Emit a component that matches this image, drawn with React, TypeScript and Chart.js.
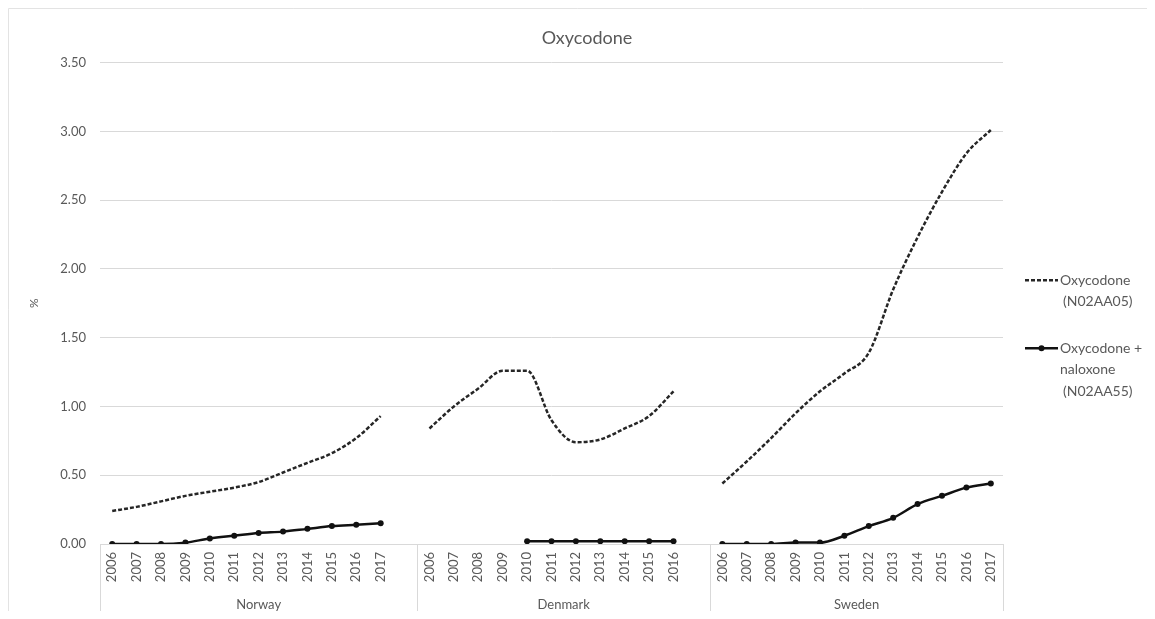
import React, { useEffect, useRef } from 'react';
import { Chart, registerables } from 'chart.js';

Chart.register(...registerables);

const chartTitle = 'Oxycodone';
const yAxisLabel = '%';
const yMin = 0;
const yMax = 3.5;
const yStep = 0.5;

const countries = ['Norway', 'Denmark', 'Sweden'];
const norwayYears = ['2006', '2007', '2008', '2009', '2010', '2011', '2012', '2013', '2014', '2015', '2016', '2017'];
const denmarkYears = ['2006', '2007', '2008', '2009', '2010', '2011', '2012', '2013', '2014', '2015', '2016'];
const swedenYears = ['2006', '2007', '2008', '2009', '2010', '2011', '2012', '2013', '2014', '2015', '2016', '2017'];

const norwayOxycodone = [0.24, 0.27, 0.31, 0.35, 0.38, 0.41, 0.45, 0.52, 0.59, 0.66, 0.77, 0.93];
const denmarkOxycodone = [0.84, 1.0, 1.13, 1.26, 1.26, 0.9, 0.74, 0.76, 0.84, 0.93, 1.11];
const swedenOxycodone = [0.44, 0.6, 0.77, 0.95, 1.11, 1.24, 1.39, 1.85, 2.23, 2.56, 2.84, 3.01];

const norwayNaloxone = [0.0, 0.0, 0.0, 0.01, 0.04, 0.06, 0.08, 0.09, 0.11, 0.13, 0.14, 0.15];
const denmarkNaloxone = [null, null, null, null, 0.02, 0.02, 0.02, 0.02, 0.02, 0.02, 0.02];
const swedenNaloxone = [0.0, 0.0, 0.0, 0.01, 0.01, 0.06, 0.13, 0.19, 0.29, 0.35, 0.41, 0.44];

const seriesLegend = [
  ['Oxycodone', '(N02AA05)'],
  ['Oxycodone +', 'naloxone', '(N02AA55)'],
];

const FONT = 'Lato, "Open Sans", "Liberation Sans", sans-serif';
const TEXT = '#595959';
const GRID = '#d9d9d9';

// Build the category table: each country followed by an empty slot (as in the original)
const groupYears = [norwayYears, denmarkYears, swedenYears];
const labels: string[] = [];
const groupSizes: number[] = [];
groupYears.forEach((yrs, gi) => {
  labels.push(...yrs);
  let n = yrs.length;
  if (gi < groupYears.length - 1) {
    labels.push('');
    n += 1;
  }
  groupSizes.push(n);
});

function joinSeries(parts: (number | null)[][]) {
  const out: (number | null)[] = [];
  parts.forEach((p, i) => {
    out.push(...p);
    if (i < parts.length - 1) out.push(null);
  });
  return out;
}

const oxycodoneData = joinSeries([norwayOxycodone, denmarkOxycodone, swedenOxycodone]);
const naloxoneData = joinSeries([norwayNaloxone, denmarkNaloxone, swedenNaloxone]);

const backgroundPlugin = {
  id: 'bgBorder',
  beforeDraw(chart: any) {
    const { ctx, width, height } = chart;
    ctx.save();
    ctx.fillStyle = '#ffffff';
    ctx.fillRect(0, 0, width, height);
    ctx.strokeStyle = '#e3e3e3';
    ctx.lineWidth = 1;
    ctx.beginPath();
    ctx.moveTo(0.5, height);
    ctx.lineTo(0.5, 0.5);
    ctx.lineTo(width, 0.5);
    ctx.stroke();
    ctx.restore();
  },
};

const groupPlugin = {
  id: 'groupAxis',
  afterDraw(chart: any) {
    const { ctx, chartArea, height } = chart;
    const x = chart.scales.x;
    const step = x.getPixelForValue(1) - x.getPixelForValue(0);
    ctx.save();
    ctx.strokeStyle = GRID;
    ctx.lineWidth = 1;
    ctx.fillStyle = TEXT;
    ctx.font = `13px ${FONT}`;
    ctx.textAlign = 'center';
    ctx.textBaseline = 'middle';
    let start = 0;
    groupSizes.forEach((n, gi) => {
      const left = x.getPixelForValue(start) - step / 2;
      const right = x.getPixelForValue(start + n - 1) + step / 2;
      [left, right].forEach((px) => {
        const xx = Math.round(px) + 0.5;
        ctx.beginPath();
        ctx.moveTo(xx, chartArea.bottom);
        ctx.lineTo(xx, height);
        ctx.stroke();
      });
      ctx.fillText(countries[gi], (left + right) / 2, height - 6);
      start += n;
    });
    ctx.restore();
  },
};

const legendPlugin = {
  id: 'sideLegend',
  afterDraw(chart: any) {
    const { ctx, chartArea } = chart;
    const x0 = chartArea.right + 22;
    const x1 = chartArea.right + 55;
    const tx = chartArea.right + 57;
    const mid = (chartArea.top + chartArea.bottom) / 2;
    const ys = [mid - 23, mid + 45];
    chart.data.datasets.forEach((ds: any, i: number) => {
      const y = ys[i];
      ctx.save();
      ctx.strokeStyle = ds.borderColor;
      ctx.lineWidth = ds.borderWidth;
      ctx.setLineDash(ds.borderDash || []);
      ctx.beginPath();
      ctx.moveTo(x0, y);
      ctx.lineTo(x1, y);
      ctx.stroke();
      ctx.setLineDash([]);
      if (ds.pointRadius > 0) {
        ctx.fillStyle = ds.pointBackgroundColor;
        ctx.beginPath();
        ctx.arc((x0 + x1) / 2, y, ds.pointRadius, 0, Math.PI * 2);
        ctx.fill();
      }
      ctx.fillStyle = TEXT;
      ctx.font = `14px ${FONT}`;
      ctx.textAlign = 'left';
      ctx.textBaseline = 'middle';
      seriesLegend[i].forEach((t, j) => {
        ctx.fillText(t, tx + (j > 0 && t.startsWith('(') ? 3 : 0), y + j * 21.5);
      });
      ctx.restore();
    });
  },
};

export default function App() {
  const canvasRef = useRef<HTMLCanvasElement | null>(null);

  useEffect(() => {
    if (!canvasRef.current) return;
    const chart = new Chart(canvasRef.current, {
      type: 'line',
      data: {
        labels,
        datasets: [
          {
            label: seriesLegend[0].join(' '),
            data: oxycodoneData,
            borderColor: '#262626',
            backgroundColor: '#262626',
            borderWidth: 2.5,
            borderDash: [4, 2],
            pointRadius: 0,
            pointBackgroundColor: '#262626',
            cubicInterpolationMode: 'monotone',
            spanGaps: false,
          },
          {
            label: seriesLegend[1].join(' '),
            data: naloxoneData,
            borderColor: '#111111',
            backgroundColor: '#111111',
            borderWidth: 2.5,
            pointRadius: 3,
            pointBackgroundColor: '#111111',
            pointBorderColor: '#111111',
            pointBorderWidth: 0,
            cubicInterpolationMode: 'monotone',
            spanGaps: false,
          },
        ],
      },
      options: {
        responsive: false,
        animation: false,
        layout: { padding: { left: 19, right: 0, top: 0, bottom: 0 } },
        plugins: {
          legend: { display: false },
          tooltip: { enabled: false },
          title: {
            display: true,
            text: chartTitle,
            color: TEXT,
            font: { family: FONT, size: 18, weight: 'normal' },
            padding: { top: 19, bottom: 14 },
          },
        },
        scales: {
          x: {
            type: 'category',
            offset: true,
            grid: { display: false, drawTicks: false },
            border: { display: true, color: GRID, width: 1 },
            ticks: {
              autoSkip: false,
              minRotation: 90,
              maxRotation: 90,
              padding: 8,
              color: TEXT,
              font: { family: FONT, size: 13 },
            },
            afterFit(scale: any) {
              scale.height = 67;
            },
          },
          y: {
            min: yMin,
            max: yMax,
            grid: { color: GRID, drawTicks: false },
            border: { display: false },
            ticks: {
              stepSize: yStep,
              padding: 14,
              color: TEXT,
              font: { family: FONT, size: 13 },
              callback: (v: any) => Number(v).toFixed(2),
            },
            title: {
              display: true,
              text: yAxisLabel,
              color: TEXT,
              font: { family: FONT, size: 12 },
              padding: 0,
            },
            afterFit(scale: any) {
              scale.width = 73;
            },
          },
          yRight: {
            position: 'right',
            display: true,
            grid: { display: false, drawTicks: false },
            border: { display: false },
            ticks: { display: false },
            afterFit(scale: any) {
              scale.width = 144;
            },
          },
        },
      } as any,
      plugins: [backgroundPlugin, groupPlugin, legendPlugin],
    });
    return () => chart.destroy();
  }, []);

  return (
    <div style={{ width: 1139, height: 603 }}>
      <canvas ref={canvasRef} width={1139} height={603} style={{ display: 'block' }} />
    </div>
  );
}
